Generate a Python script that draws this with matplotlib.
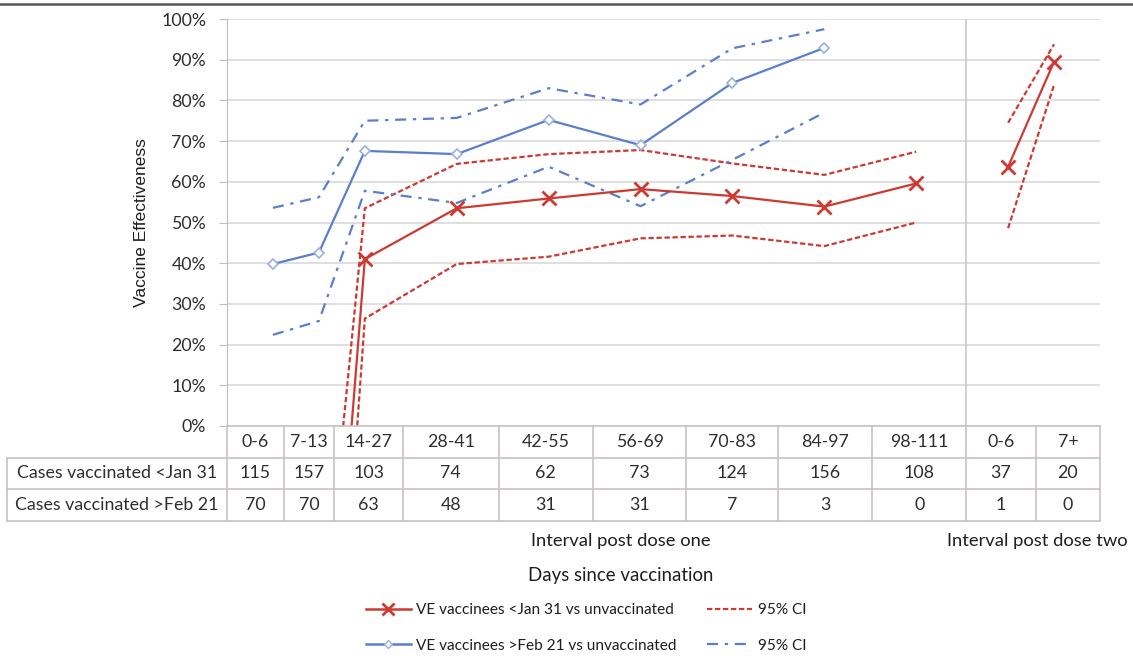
import numpy as np
import matplotlib.pyplot as plt
from matplotlib.lines import Line2D

plt.rcParams['font.family'] = ['Lato', 'DejaVu Sans']

# ------------------------
# Data
# ------------------------
categories = ['0-6', '7-13', '14-27', '28-41', '42-55', '56-69',
              '70-83', '84-97', '98-111', '0-6', '7+']
# x position of each interval, in weeks
week_pos = [0, 1, 2, 4, 6, 8, 10, 12, 14, 16, 17]
n_dose_one = 9

cases_jan31 = [115, 157, 103, 74, 62, 73, 124, 156, 108, 37, 20]
cases_feb21 = [70, 70, 63, 48, 31, 31, 7, 3, 0, 1, 0]

nan = np.nan
# VE (%) vaccinees < Jan 31 ; values below 0 run off the chart
ve_jan = [nan, -101, 41.0, 53.5, 55.9, 58.2, 56.5, 53.9, 59.6, 63.7, 89.5]
ci_hi_jan = [nan, -60, 53.5, 64.4, 66.8, 67.8, 64.5, 61.7, 67.4, 74.5, 93.8]
ci_lo_jan = [nan, -133, 26.4, 39.8, 41.6, 46.1, 46.8, 44.2, 50.0, 48.6, 83.8]
# VE (%) vaccinees > Feb 21
ve_feb = [39.8, 42.6, 67.6, 66.8, 75.2, 69.0, 84.3, 92.9, nan, nan, nan]
ci_hi_feb = [53.6, 56.2, 75.0, 75.7, 83.0, 79.0, 92.8, 97.5, nan, nan, nan]
ci_lo_feb = [22.4, 25.8, 57.8, 54.8, 63.7, 54.0, 65.4, 77.0, nan, nan, nan]

row_labels = ['Cases vaccinated <Jan 31', 'Cases vaccinated >Feb 21']

# table column edges (x axis units) - layout only
col_edges = [-1, 0.24, 1.33, 2.83, 4.91, 6.96, 9.0, 11.0, 13.04, 15.09, 16.6, 18.0]

RED = '#cc3a32'
BLUE = '#5b7fca'
GRID = '#d9d9d9'
TXT = '#2e2e2e'
TAB = '#c8c2c2'
FS = 12.8

W, H = 1133, 656
fig = plt.figure(figsize=(W / 100, H / 100), dpi=100)
ax = fig.add_axes([227 / W, 1 - 426 / H, 873 / W, 407 / H])

x = np.array(week_pos, dtype=float)
segments = [slice(0, n_dose_one), slice(n_dose_one, len(x))]
for s in segments:
    ax.plot(x[s], np.array(ci_hi_jan)[s], color=RED, lw=1.6,
            ls=(0, (2.4, 1.2)), zorder=3)
    ax.plot(x[s], np.array(ci_lo_jan)[s], color=RED, lw=1.6,
            ls=(0, (2.4, 1.2)), zorder=3)
    ax.plot(x[s], np.array(ve_jan)[s], color=RED, lw=1.6, marker='x',
            ms=10, mew=2, zorder=4)

ax.plot(x, ci_hi_feb, color=BLUE, lw=1.6, ls=(0, (5, 3, 1.5, 3)), zorder=3)
ax.plot(x, ci_lo_feb, color=BLUE, lw=1.6, ls=(0, (5, 3, 1.5, 3)), zorder=3)
ax.plot(x, ve_feb, color=BLUE, lw=1.6, marker='D', ms=5.5, mfc='white',
        mec='#9ab0de', mew=1.2, zorder=4)

ax.set_xlim(col_edges[0], col_edges[-1])
ax.set_ylim(0, 100)
ax.set_yticks(range(0, 101, 10))
ax.set_yticklabels([f'{v}%' for v in range(0, 101, 10)], fontsize=FS,
                   color=TXT)
ax.tick_params(axis='y', length=6, color='#bfbfbf', pad=9)
ax.set_xticks([])
ax.grid(axis='y', color=GRID, lw=1.2)
ax.set_axisbelow(True)
for side in ['top', 'right', 'bottom']:
    ax.spines[side].set_visible(False)
ax.spines['left'].set_color('#bfbfbf')
ax.axvline(col_edges[9], color='#c8c8c8', lw=1.2, zorder=1)
ax.set_ylabel('Vaccine Effectiveness', fontsize=12.5,
              family=['Liberation Sans', 'DejaVu Sans'], color='#1e1e1e',
              labelpad=9)

# ------------------------
# Table under the chart
# ------------------------
tab = fig.add_axes([227 / W, 1 - 521 / H, 873 / W, 95 / H])
tab.set_xlim(col_edges[0], col_edges[-1])
tab.set_ylim(3, 0)
tab.axis('off')
label_left = col_edges[0] - 220 / 873 * (col_edges[-1] - col_edges[0])

kw = dict(color=TAB, lw=1.2, clip_on=False)
tab.plot([col_edges[0], col_edges[-1]], [0, 0], **kw)
for r in (1, 2, 3):
    tab.plot([label_left, col_edges[-1]], [r, r], **kw)
tab.plot([label_left, label_left], [1, 3], **kw)
for e in col_edges:
    tab.plot([e, e], [0, 3], **kw)

for i, cat in enumerate(categories):
    cx = (col_edges[i] + col_edges[i + 1]) / 2
    tab.text(cx, 0.5, cat, ha='center', va='center', fontsize=FS, color=TXT)
    tab.text(cx, 1.5, str(cases_jan31[i]), ha='center', va='center',
             fontsize=FS, color=TXT)
    tab.text(cx, 2.5, str(cases_feb21[i]), ha='center', va='center',
             fontsize=FS, color=TXT)
for r, lab in enumerate(row_labels):
    tab.text((label_left + col_edges[0]) / 2, r + 1.5, lab, ha='center',
             va='center', fontsize=FS, color=TXT)

fig.text(621 / W, 1 - 541 / H, 'Interval post dose one', ha='center',
         va='center', fontsize=13.2, color='#1e1e1e')
fig.text(1037 / W, 1 - 541 / H, 'Interval post dose two', ha='center',
         va='center', fontsize=13.2, color='#1e1e1e')
fig.text(621 / W, 1 - 576 / H, 'Days since vaccination', ha='center',
         va='center', fontsize=13.4, color='#1e1e1e')

# ------------------------
# Legend
# ------------------------
handles = [
    Line2D([], [], color=RED, lw=1.8, marker='x', ms=9, mew=2),
    Line2D([], [], color=BLUE, lw=1.8, marker='D', ms=4.5, mfc='white',
           mec='#9ab0de'),
    Line2D([], [], color=RED, lw=1.6, ls=(0, (2.4, 1.2))),
    Line2D([], [], color=BLUE, lw=1.6, ls=(0, (5, 3, 1.5, 3))),
]
labels = ['VE vaccinees <Jan 31 vs unvaccinated',
          'VE vaccinees >Feb 21 vs unvaccinated', '95% CI', '95% CI']
fig.legend(handles, labels, ncol=2, frameon=False, loc='center',
           bbox_to_anchor=(586 / W, 1 - 628 / H), fontsize=11.1,
           handlelength=2.9, columnspacing=2.0, labelspacing=1.4,
           handletextpad=0.35, labelcolor='#1e1e1e')

# top border of the picture
fig.add_artist(Line2D([0, 1], [1 - 4 / H, 1 - 4 / H], color='#555555',
                      lw=1.8, transform=fig.transFigure))

fig.savefig('out.png', dpi=100)
